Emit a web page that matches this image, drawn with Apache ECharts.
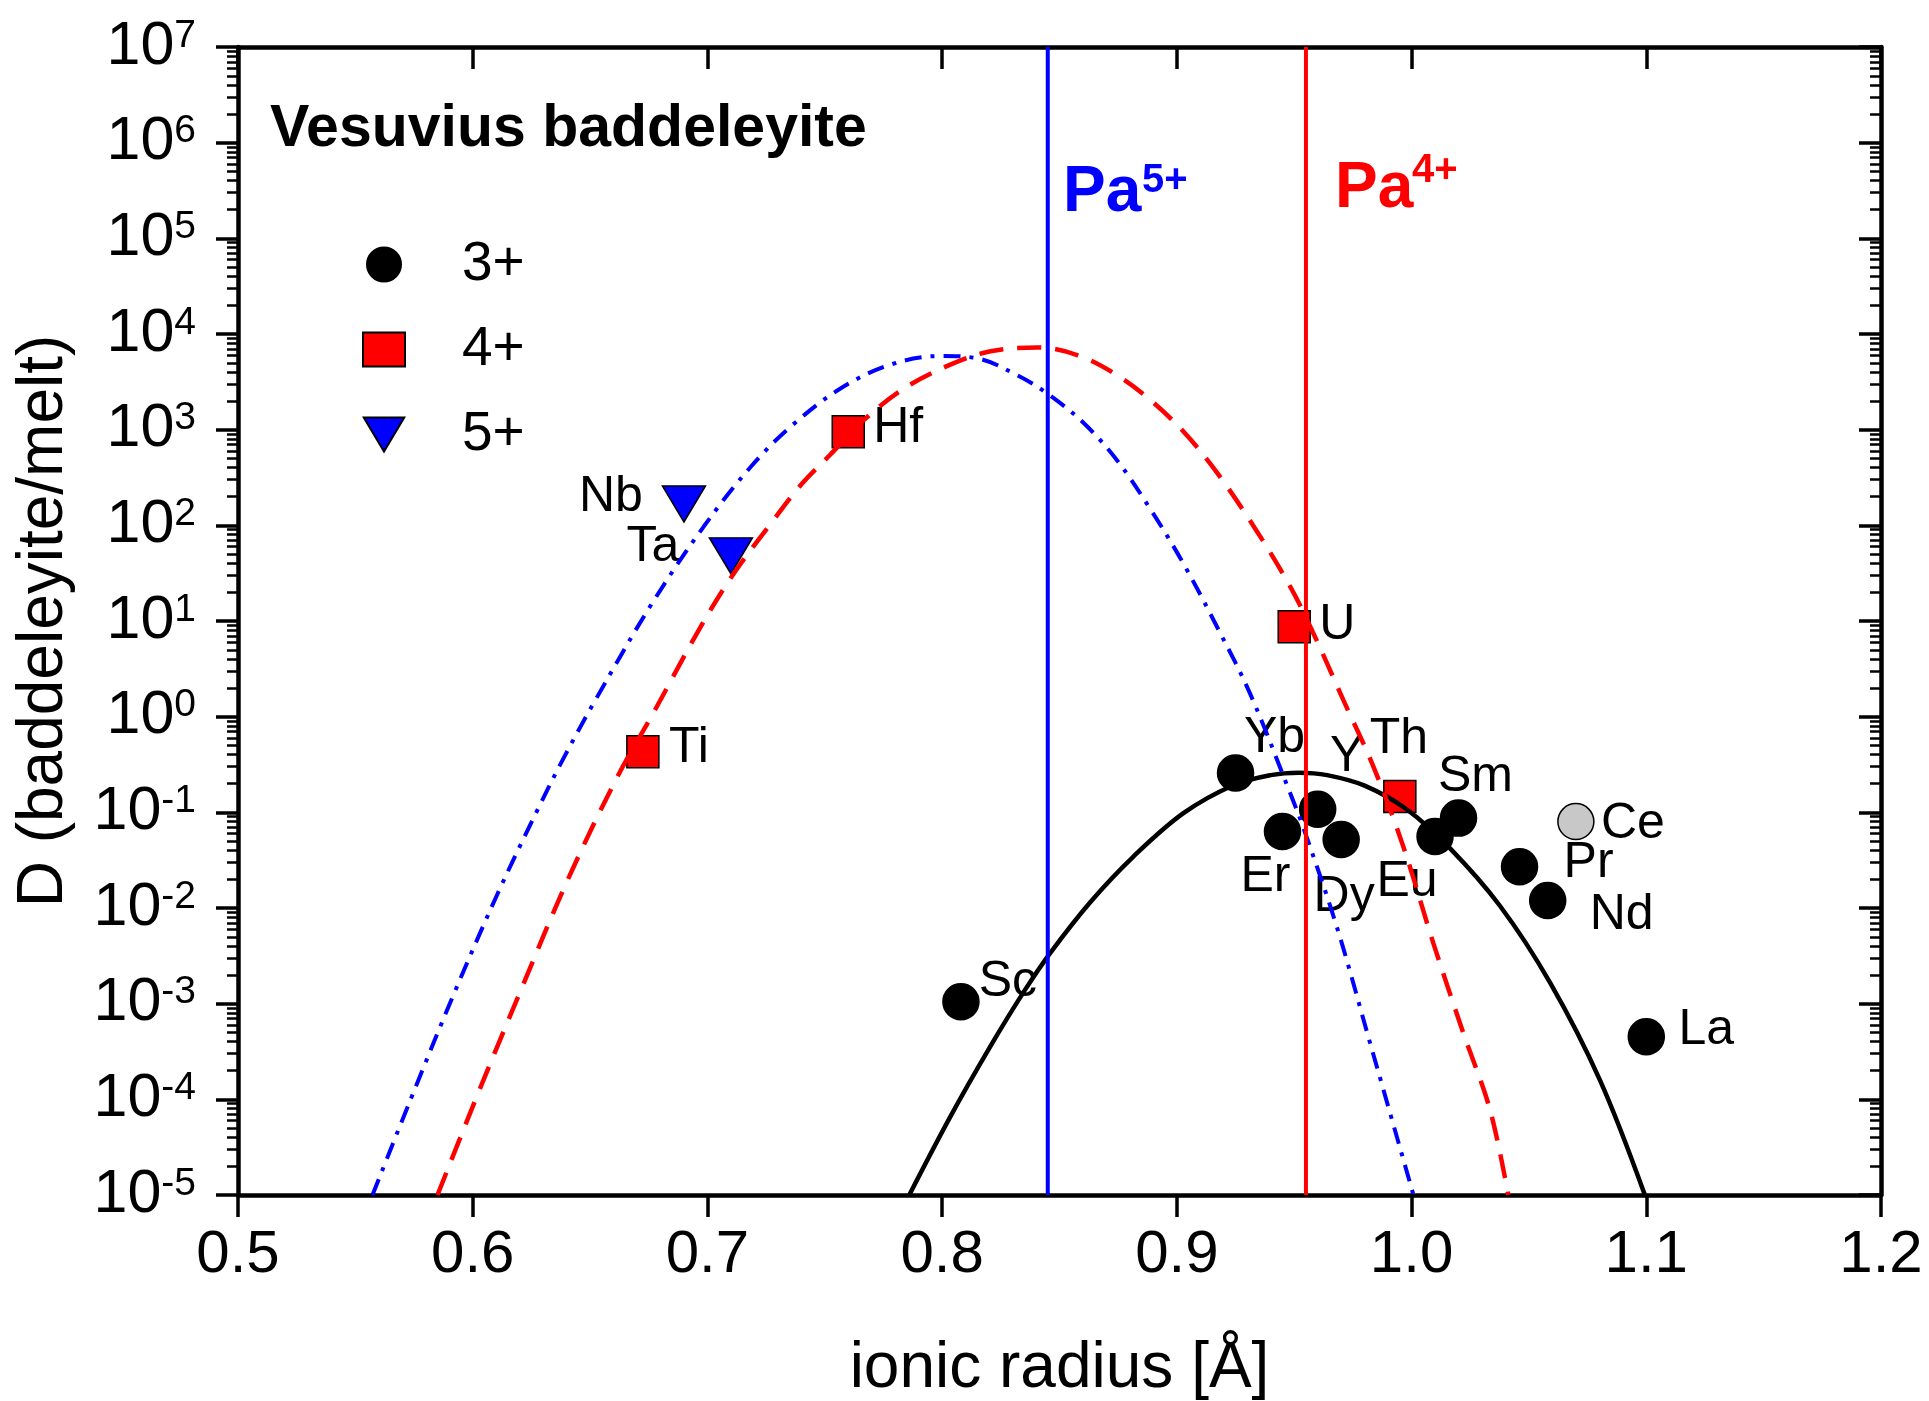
<!DOCTYPE html>
<html>
<head>
<meta charset="utf-8">
<script src="https://cdn.jsdelivr.net/npm/echarts@6/dist/echarts.min.js"></script>
<style>
html,body{margin:0;padding:0;background:#ffffff;}
#chart{width:1929px;height:1401px;}
</style>
</head>
<body>
<div id="chart"></div>
<script>
// ---------------- data ----------------
const elements3 = ['Sc', 'Yb', 'Er', 'Y', 'Dy', 'Eu', 'Sm', 'Ce', 'Pr', 'Nd', 'La'];
const radius3   = [0.808, 0.925, 0.945, 0.960, 0.970, 1.010, 1.020, 1.070, 1.046, 1.058, 1.100];
const D3        = [0.00105, 0.257, 0.063, 0.108, 0.052, 0.056, 0.087, 0.080, 0.027, 0.012, 0.00045];

const elements4 = ['Ti', 'Hf', 'U', 'Th'];
const radius4   = [0.6725, 0.760, 0.950, 0.995];
const D4        = [0.43, 950, 8.7, 0.146];

const elements5 = ['Nb', 'Ta'];
const radius5   = [0.690, 0.710];
const D5        = [167, 48];

// fitted lattice-strain curves
const fit3X = [0.786, 0.8035, 0.8206, 0.8347, 0.8461, 0.8631, 0.8816, 0.9028, 0.9241, 0.940, 0.952, 0.964, 0.980, 0.998, 1.0164, 1.0377, 1.059, 1.0803, 1.0994];
const fit3D = [1.0e-5, 6.6e-5, 3.6e-4, 1.32e-3, 3.4e-3, 0.0115, 0.0347, 0.098, 0.192, 0.245, 0.26, 0.245, 0.19, 0.107, 0.042, 0.0105, 1.66e-3, 1.58e-4, 1.0e-5];

const fit4X = [0.585, 0.6034, 0.6205, 0.6404, 0.6616, 0.6772, 0.6971, 0.7113, 0.7283, 0.7397, 0.7524, 0.7666, 0.7837, 0.8035, 0.8206, 0.8404, 0.8575, 0.8745, 0.8887, 0.9028, 0.9171, 0.9327, 0.9483, 0.9582, 0.971, 0.9837, 0.9965, 1.0093, 1.0221, 1.0334, 1.0412];
const fit4D = [1.0e-5, 1.35e-4, 1.38e-3, 0.0195, 0.234, 1.12, 8.7, 31.6, 115, 263, 550, 1259, 2692, 4786, 6607, 7244, 6026, 3715, 2042, 955, 355, 98, 22.9, 7.41, 1.48, 0.302, 0.0437, 4.27e-3, 4.9e-4, 7.8e-5, 1.0e-5];

const fit5X = [0.5573, 0.5737, 0.5914, 0.6106, 0.6283, 0.639, 0.6531, 0.6758, 0.6985, 0.7184, 0.7354, 0.7567, 0.778, 0.7993, 0.8149, 0.8319, 0.8447, 0.8603, 0.8745, 0.8887, 0.9028, 0.9171, 0.9312, 0.9483, 0.954, 0.9682, 0.9823, 1.0008];
const fit5D = [1.0e-5, 1.02e-4, 1.17e-3, 0.0141, 0.115, 0.38, 1.62, 14.5, 97.7, 407, 1072, 2692, 4786, 5888, 5572, 3715, 2399, 1175, 479, 148, 39.8, 8.7, 1.74, 0.158, 0.068, 6.3e-3, 3.9e-4, 1.0e-5];

// ionic radii of Pa5+ and Pa4+
const paNames  = ['Pa5+', 'Pa4+'];
const paRadius = [0.845, 0.955];

// tick labels
const xTickLabels = ['0.5', '0.6', '0.7', '0.8', '0.9', '1.0', '1.1', '1.2'];
const yTickExponents = [-5, -4, -3, -2, -1, 0, 1, 2, 3, 4, 5, 6, 7];

// ---------------- presentation ----------------
const FONT = "'Liberation Sans', Arial, Helvetica, sans-serif";

// label offsets (pixels, relative to marker centre)
const labelOffset = {
  Sc: [47, -19], Yb: [39, -35], Er: [-17, 46], Y: [29, -52], Dy: [3, 58],
  Eu: [-28, 46], Sm: [17, -41], Ce: [57, 3], Pr: [69, -4], Nd: [74, 15], La: [60, -7],
  Ti: [46, -4], Hf: [50, -4], U: [43, -2], Th: [-1, -57],
  Nb: [-73, -7], Ta: [-78, -9]
};

function buildPoints(names, xs, ys, extra) {
  return names.map((n, i) => {
    const item = { name: n, value: [xs[i], ys[i]], label: { offset: labelOffset[n] } };
    if (extra && extra[n]) Object.assign(item, extra[n]);
    return item;
  });
}
function pairs(xs, ys) { return xs.map((x, i) => [x, ys[i]]); }

// major and minor tick positions for the log axis
const yMajor = yTickExponents.map(e => Math.pow(10, e));
const yMinor = [];
yTickExponents.slice(0, -1).forEach(e => {
  for (let k = 2; k <= 9; k++) yMinor.push(k * Math.pow(10, e));
});
const yMin = yMajor[0];
const yMax = yMajor[yMajor.length - 1];

const pointLabel = {
  show: true, position: 'inside', formatter: p => p.name,
  fontSize: 50, color: '#000', fontFamily: FONT
};

const chart = echarts.init(document.getElementById('chart'), null, { renderer: 'canvas' });

function logAxis(position, inside, showLine, ticks, tickLen, tickWidth, labels) {
  return {
    type: 'log', logBase: 10, position: position, min: yMin, max: yMax,
    axisLine: { show: showLine, onZero: false, lineStyle: { color: '#000', width: 4.5 } },
    axisTick: { show: true, inside: inside, length: tickLen, customValues: ticks, lineStyle: { color: '#000', width: tickWidth } },
    axisLabel: labels || { show: false },
    splitLine: { show: false }
  };
}

const yLabel = {
  show: true, margin: 42, color: '#000', fontFamily: FONT, customValues: yMajor,
  formatter: v => '{b|10}{s|' + Math.round(Math.log10(v)) + '}',
  rich: {
    b: { fontSize: 61, lineHeight: 61, color: '#000', fontFamily: FONT },
    s: { fontSize: 39, lineHeight: 30, verticalAlign: 'top', color: '#000', fontFamily: FONT }
  }
};

const yMain = logAxis('left', false, true, yMajor, 22, 3.5, yLabel);
yMain.name = 'D (baddeleyite/melt)';
yMain.nameLocation = 'middle';
yMain.nameGap = 162;
yMain.nameRotate = 90;
yMain.nameTextStyle = { fontSize: 64, color: '#000', fontFamily: FONT };

const option = {
  backgroundColor: '#ffffff',
  animation: false,
  textStyle: { fontFamily: FONT },
  grid: { left: 238, right: 48, top: 47, bottom: 206, containLabel: false, outerBoundsMode: 'none' },
  legend: {
    orient: 'vertical', left: 357, top: 232,
    itemWidth: 42, itemHeight: 34, itemGap: 30,
    data: ['3+', '4+', '5+'],
    textStyle: { fontSize: 55, color: '#000', fontFamily: FONT, padding: [0, 0, 0, 52], lineHeight: 34 },
    selectedMode: false
  },
  xAxis: [
    {
      type: 'value', position: 'bottom', min: 0.5, max: 1.2, interval: 0.1,
      name: 'ionic radius [Å]', nameLocation: 'middle', nameGap: 142,
      nameTextStyle: { fontSize: 64, color: '#000', fontFamily: FONT },
      axisLine: { show: true, onZero: false, lineStyle: { color: '#000', width: 4.5 } },
      axisTick: { show: true, inside: false, length: 22, lineStyle: { color: '#000', width: 3.5 } },
      axisLabel: {
        show: true, margin: 30, fontSize: 60, color: '#000', fontFamily: FONT,
        formatter: v => xTickLabels[Math.round((v - 0.5) * 10)]
      },
      splitLine: { show: false }
    },
    {
      type: 'value', position: 'top', min: 0.5, max: 1.2, interval: 0.1,
      axisLine: { show: true, onZero: false, lineStyle: { color: '#000', width: 4.5 } },
      axisTick: { show: true, inside: true, length: 22, lineStyle: { color: '#000', width: 3.5 } },
      axisLabel: { show: false },
      splitLine: { show: false }
    }
  ],
  yAxis: [
    yMain,
    logAxis('left', false, false, yMinor, 11, 2.5),
    logAxis('right', true, true, yMajor, 22, 3.5),
    logAxis('right', true, false, yMinor, 11, 2.5)
  ],
  graphic: [
    { type: 'text', left: 270, top: 100, z: 100,
      style: { text: 'Vesuvius baddeleyite', fill: '#000', font: "bold 59px " + FONT } },
    { type: 'text', x: 1063, y: 193, z: 100,
      style: { text: 'Pa', fill: '#0000ff', font: "bold 64px " + FONT, verticalAlign: 'middle', align: 'left' } },
    { type: 'text', x: 1142, y: 181, z: 100,
      style: { text: '5+', fill: '#0000ff', font: "bold 40px " + FONT, verticalAlign: 'middle', align: 'left' } },
    { type: 'text', x: 1335, y: 189, z: 100,
      style: { text: 'Pa', fill: '#ff0000', font: "bold 64px " + FONT, verticalAlign: 'middle', align: 'left' } },
    { type: 'text', x: 1412, y: 171, z: 100,
      style: { text: '4+', fill: '#ff0000', font: "bold 40px " + FONT, verticalAlign: 'middle', align: 'left' } }
  ],
  series: [
    {
      name: '3+', type: 'scatter', symbol: 'circle', symbolSize: 36, z: 3,
      itemStyle: { color: '#000000', borderColor: '#000000', borderWidth: 1.5, opacity: 1 },
      label: pointLabel,
      data: buildPoints(elements3, radius3, D3, {
        Ce: { itemStyle: { color: '#c8c8c8', borderColor: '#000000', borderWidth: 1.5 } }
      })
    },
    {
      name: '4+', type: 'scatter', symbol: 'rect', symbolSize: 32, z: 3,
      itemStyle: { color: '#ff0000', borderColor: '#000000', borderWidth: 1.5, opacity: 1 },
      label: pointLabel,
      data: buildPoints(elements4, radius4, D4)
    },
    {
      name: '5+', type: 'scatter', symbol: 'path://M0,0L10,0L5,8.4Z', symbolSize: [43, 36], z: 3,
      itemStyle: { color: '#0000ff', borderColor: '#000000', borderWidth: 1.5, opacity: 1 },
      label: pointLabel,
      data: buildPoints(elements5, radius5, D5)
    },
    {
      name: 'fit 3+', type: 'line', showSymbol: false, smooth: 0.35, z: 4, silent: true,
      lineStyle: { color: '#000000', width: 4.5, type: 'solid' },
      data: pairs(fit3X, fit3D)
    },
    {
      name: 'fit 4+', type: 'line', showSymbol: false, smooth: 0.35, z: 4, silent: true,
      lineStyle: { color: '#ff0000', width: 4.5, type: [24, 14] },
      data: pairs(fit4X, fit4D)
    },
    {
      name: 'fit 5+', type: 'line', showSymbol: false, smooth: 0.35, z: 4, silent: true,
      lineStyle: { color: '#0000ff', width: 4, type: [17, 9, 4, 9] },
      data: pairs(fit5X, fit5D)
    },
    {
      name: paNames[0], type: 'line', showSymbol: false, z: 5, silent: true,
      lineStyle: { color: '#0000ff', width: 4, type: 'solid' },
      data: [[paRadius[0], yMin], [paRadius[0], yMax]]
    },
    {
      name: paNames[1], type: 'line', showSymbol: false, z: 5, silent: true,
      lineStyle: { color: '#ff0000', width: 4, type: 'solid' },
      data: [[paRadius[1], yMin], [paRadius[1], yMax]]
    }
  ]
};

chart.setOption(option);
</script>
</body>
</html>
